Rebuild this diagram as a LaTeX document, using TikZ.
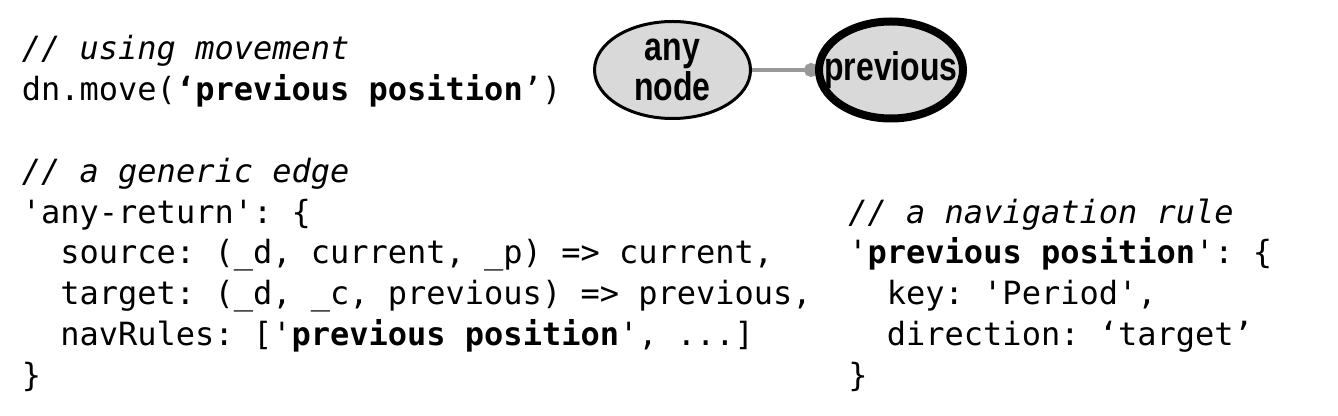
\documentclass[tikz,border=0pt]{standalone}
\usepackage{fontspec}
\setmonofont{DejaVu Sans Mono}
\newfontfamily\nodefont[FakeStretch=0.8]{Liberation Sans}
\usetikzlibrary{shapes.geometric,arrows.meta,backgrounds}
\definecolor{nodefill}{HTML}{D9D9D9}
\definecolor{edgegray}{HTML}{999999}
\newcommand{\codesize}{\fontsize{16pt}{20.4pt}\selectfont}
\begin{document}
\begin{tikzpicture}
[x=0.5pt,y=-0.5pt,
  nodedecorate/.style={shape=ellipse,draw,fill=nodefill,inner sep=0pt,align=center,%
    font=\nodefont\bfseries\fontsize{20pt}{18.5pt}\selectfont},
  codeline/.style={anchor=base west,inner sep=0pt,font=\ttfamily\codesize},
  arrowdecorate/.style={edgegray,line width=1.75pt,-{Circle[length=7pt]}}]
\useasboundingbox (0,0) rectangle (1338,416);
%% nodes or vertices
\node (anynode) at (672.5,70) [nodedecorate,line width=1.5pt,%
  minimum width=78pt,minimum height=48.5pt] {any\\node};
\node (previous) at (891,70) [nodedecorate,line width=4pt,inner xsep=-8pt,%
  minimum width=72pt,minimum height=48.5pt] {previous};
%% edges or lines
\begin{scope}[on background layer]
  \path (anynode) edge[arrowdecorate,shorten >=-1.5pt] (previous);
\end{scope}
%% code lines
\foreach \linename/\x/\y/\linetext in {
  usingcomment/21.5/60/{\textit{// using movement}},
  movecall/21.5/100.8/{dn.move(\textbf{‘previous position}’)},
  edgecomment/21.5/182.4/{\textit{// a generic edge}},
  edgeopen/21.5/223.2/{'any-return': \{},
  edgesource/60/264/{source: (\_d, current, \_p) => current,},
  edgetarget/60/304.8/{target: (\_d, \_c, previous) => previous,},
  edgerules/60/345.6/{navRules: ['\textbf{previous position}', ...]},
  edgeclose/21.5/386.4/{\}},
  rulecomment/848/223.2/{\textit{// a navigation rule}},
  ruleopen/848/264/{'\textbf{previous position}': \{},
  rulekey/886.5/304.8/{key: 'Period',},
  ruledirection/886.5/345.6/{direction: ‘target’},
  ruleclose/848/386.4/{\}}}
{
  \node (\linename) at (\x,\y) [codeline] {\linetext};
}
\end{tikzpicture}
\end{document}
